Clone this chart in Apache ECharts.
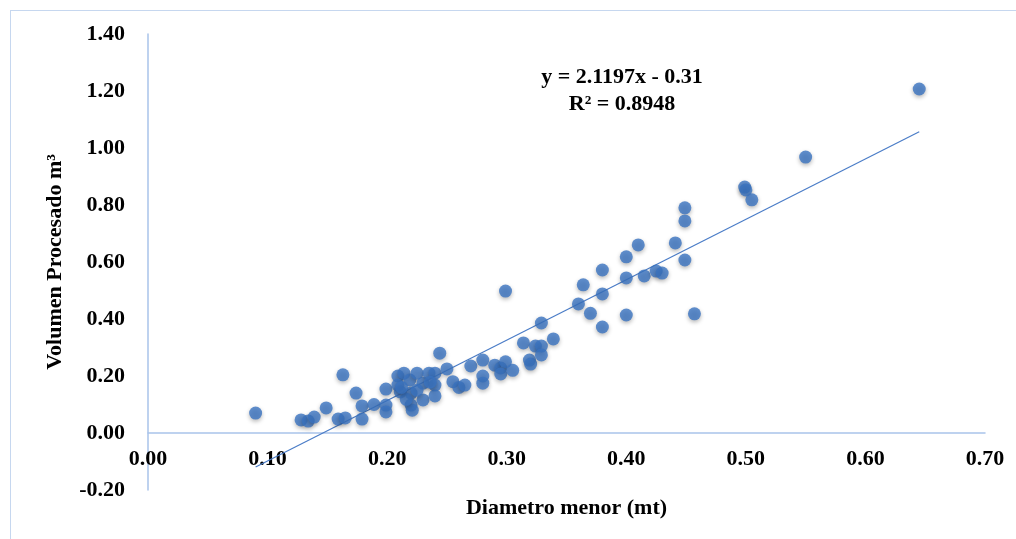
<!DOCTYPE html>
<html>
<head>
<meta charset="utf-8">
<title>Volumen vs Diametro</title>
<style>
html, body { margin: 0; padding: 0; background: #fff; }
#frame {
    position: absolute; left: 10px; top: 10px; width: 1100px; height: 600px;
    border-left: 1px solid #c6d7ef; border-top: 1px solid #c6d7ef;
}
#main { position: absolute; left: 0; top: 0; width: 1016px; height: 539px; }
</style>
<script src="https://cdn.jsdelivr.net/npm/echarts@6/dist/echarts.min.js"></script>
</head>
<body>
<div id="frame"></div>
<div id="main"></div>
<script>
// diametro menor (mt)
var diam = [
    0.090, 0.128, 0.134, 0.139, 0.149, 0.163, 0.159, 0.165, 0.174, 0.179,
    0.179, 0.189, 0.199, 0.199, 0.199, 0.209, 0.214, 0.209, 0.211, 0.219,
    0.220, 0.220, 0.225, 0.230, 0.230, 0.235, 0.240, 0.240, 0.240, 0.221,
    0.244, 0.250, 0.255, 0.260, 0.265, 0.270, 0.280, 0.280, 0.280, 0.290,
    0.295, 0.299, 0.295, 0.299, 0.305, 0.314, 0.319, 0.320, 0.324, 0.329,
    0.329, 0.329, 0.339, 0.360, 0.364, 0.370, 0.380, 0.380, 0.380, 0.400,
    0.400, 0.400, 0.410, 0.415, 0.425, 0.430, 0.441, 0.449, 0.449, 0.449,
    0.457, 0.499, 0.500, 0.505, 0.550, 0.645, 0.216, 0.225, 0.236, 0.212
];
// volumen procesado m3
var vol = [
    0.070, 0.046, 0.042, 0.056, 0.088, 0.204, 0.049, 0.053, 0.140, 0.095,
    0.049, 0.100, 0.154, 0.098, 0.074, 0.200, 0.210, 0.168, 0.144, 0.186,
    0.140, 0.098, 0.210, 0.175, 0.116, 0.210, 0.210, 0.168, 0.130, 0.080,
    0.280, 0.225, 0.180, 0.160, 0.168, 0.235, 0.256, 0.200, 0.175, 0.238,
    0.228, 0.250, 0.207, 0.498, 0.220, 0.316, 0.256, 0.242, 0.305, 0.305,
    0.386, 0.274, 0.330, 0.453, 0.520, 0.420, 0.572, 0.488, 0.372, 0.618,
    0.544, 0.414, 0.660, 0.551, 0.568, 0.561, 0.667, 0.790, 0.744, 0.607,
    0.418, 0.863, 0.853, 0.818, 0.968, 1.207, 0.118, 0.150, 0.178, 0.160
];
var xTicks = ['0.00', '0.10', '0.20', '0.30', '0.40', '0.50', '0.60', '0.70'];
var slope = 2.1197;
var intercept = -0.31;
var trendX = [0.09, 0.645];
var eqText = ['y = 2.1197x - 0.31', 'R\u00b2 = 0.8948'];

var points = diam.map(function (d, i) { return [d, vol[i]]; });
var trend = trendX.map(function (x) { return [x, slope * x + intercept]; });

var serif = "'Times New Roman', 'Liberation Serif', serif";
var axisColor = '#a9c3ea';
var fs = 22;

var chart = echarts.init(document.getElementById('main'));
var option = {
    backgroundColor: 'transparent',
    animation: false,
    grid: { left: 148, right: 31, top: 34, bottom: 49, outerBoundsMode: 'none', containLabel: false },
    xAxis: {
        type: 'value',
        min: 0, max: 0.7, interval: 0.1,
        name: 'Diametro menor (mt)',
        nameLocation: 'middle',
        nameGap: 7,
        nameTextStyle: { fontFamily: serif, fontWeight: 'bold', fontSize: fs, color: '#000' },
        axisLine: { onZero: true, lineStyle: { color: axisColor, width: 1.5 } },
        axisTick: { show: false },
        splitLine: { show: false },
        axisLabel: {
            margin: -42,
            fontFamily: serif, fontWeight: 'bold', fontSize: fs, color: '#000',
            formatter: function (v) { return xTicks[Math.round(v * 10)]; }
        }
    },
    yAxis: {
        type: 'value',
        min: -0.2, max: 1.4, interval: 0.2,
        name: 'Volumen Procesado m\u00b3',
        nameLocation: 'middle',
        nameGap: 82,
        nameTextStyle: { fontFamily: serif, fontWeight: 'bold', fontSize: fs, color: '#000' },
        axisLine: { show: true, onZero: false, lineStyle: { color: axisColor, width: 1.5 } },
        axisTick: { show: false },
        splitLine: { show: false },
        axisLabel: {
            margin: 23,
            fontFamily: serif, fontWeight: 'bold', fontSize: fs, color: '#000',
            formatter: function (v) { return v.toFixed(2); }
        }
    },
    graphic: [{
        type: 'text',
        x: 622, y: 64,
        style: {
            text: eqText.join('\n'),
            fontFamily: serif, fontWeight: 'bold', fontSize: fs,
            fill: '#000', align: 'center', verticalAlign: 'top', lineHeight: 27
        }
    }],
    series: [{
        type: 'line',
        data: trend,
        symbol: 'none',
        lineStyle: { color: '#4a7cc7', width: 1.2 },
        z: 1
    }, {
        type: 'scatter',
        data: points,
        symbolSize: 13,
        itemStyle: {
            color: '#3a73c0',
            shadowBlur: 4,
            shadowOffsetY: 2,
            shadowColor: 'rgba(0,0,0,0.35)'
        },
        z: 2
    }]
};
chart.setOption(option);
</script>
</body>
</html>
